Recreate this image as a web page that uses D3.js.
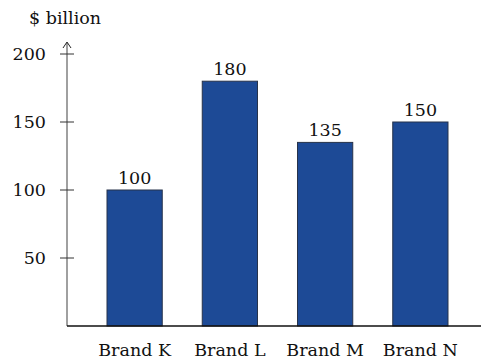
<!DOCTYPE html>
<html>
<head>
<meta charset="utf-8">
<script src="https://cdn.jsdelivr.net/npm/d3@7"></script>
<style>
body { margin: 0; background: #fff; }
text { font-family: "DejaVu Serif", serif; font-size: 17.5px; fill: #111; }
</style>
</head>
<body>
<svg id="chart" width="481" height="361"></svg>
<script>
let brands = ["Brand K", "Brand L", "Brand M", "Brand N"];
let values = [100, 180, 135, 150];
let tickValues = [50, 100, 150, 200];

let svg = d3.select("#chart");
let x0 = 67, yBase = 326;

let x = d3.scaleBand()
	.domain(brands)
	.range([87, 468])
	.paddingInner(0.42)
	.paddingOuter(0.21);

let y = d3.scaleLinear()
	.domain([0, 200])
	.range([yBase, 54]);

//Bars
svg.selectAll("rect.bar")
	.data(values)
	.enter().append("rect")
	.attr("class", "bar")
	.attr("x", (d, i) => x(brands[i]))
	.attr("y", d => y(d))
	.attr("width", x.bandwidth())
	.attr("height", d => yBase - y(d))
	.attr("fill", "#1d4a96")
	.attr("stroke", "#27334a")
	.attr("stroke-width", 1);

//Value labels
svg.selectAll("text.val")
	.data(values)
	.enter().append("text")
	.attr("class", "val")
	.attr("x", (d, i) => x(brands[i]) + x.bandwidth() / 2)
	.attr("y", d => y(d) - 6)
	.attr("text-anchor", "middle")
	.text(d => d);

//Y axis
svg.append("line")
	.attr("x1", x0).attr("x2", x0)
	.attr("y1", yBase).attr("y2", 43)
	.attr("stroke", "#808080").attr("stroke-width", 1.5);
svg.append("path")
	.attr("d", `M${x0 - 4},${48} L${x0},${42} L${x0 + 4},${48}`)
	.attr("fill", "none").attr("stroke", "#222").attr("stroke-width", 1);

svg.selectAll("line.tick")
	.data(tickValues)
	.enter().append("line")
	.attr("class", "tick")
	.attr("x1", x0 - 7).attr("x2", x0 + 7)
	.attr("y1", d => y(d)).attr("y2", d => y(d))
	.attr("stroke", "#333").attr("stroke-width", 1);

svg.selectAll("text.ytick")
	.data(tickValues)
	.enter().append("text")
	.attr("class", "ytick")
	.attr("x", 46)
	.attr("y", d => y(d) + 6)
	.attr("text-anchor", "end")
	.text(d => d);

//X axis
svg.append("line")
	.attr("x1", x0).attr("x2", 481)
	.attr("y1", yBase).attr("y2", yBase)
	.attr("stroke", "#111").attr("stroke-width", 1.5);

svg.selectAll("text.xlab")
	.data(brands)
	.enter().append("text")
	.attr("class", "xlab")
	.attr("x", d => x(d) + x.bandwidth() / 2)
	.attr("y", 356)
	.attr("text-anchor", "middle")
	.text(d => d);

svg.append("text")
	.attr("x", 29)
	.attr("y", 24)
	.text("$ billion");
</script>
</body>
</html>
